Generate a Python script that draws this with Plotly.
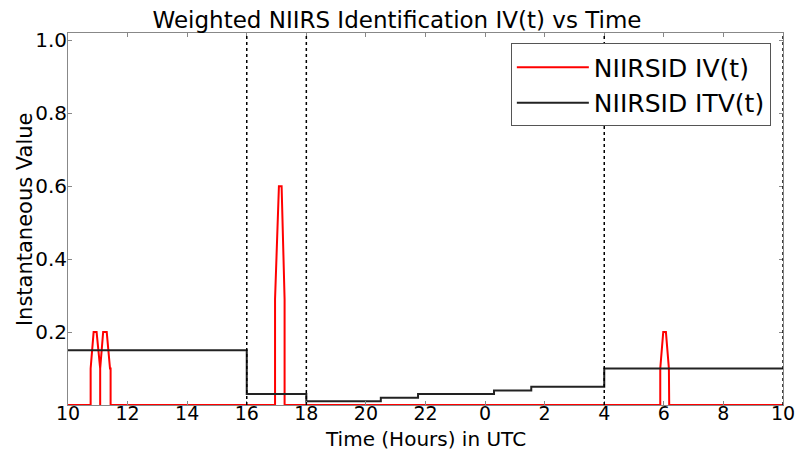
import plotly.graph_objects as go

# Time in hours (values past 24 are the next day)
tick_vals = [10, 12, 14, 16, 18, 20, 22, 24, 26, 28, 30, 32, 34]
tick_text = ["10", "12", "14", "16", "18", "20", "22", "0", "2", "4", "6", "8", "10"]

# NIIRSID IV(t) - red
iv_t = [10.0, 10.76, 10.76, 10.86, 10.96, 11.08, 11.08, 11.08, 11.18, 11.30, 11.41, 11.43, 11.43,
        16.95, 16.95, 17.08, 17.17, 17.27, 17.27,
        29.88, 29.88, 29.98, 30.07, 30.17, 30.18, 34.0]
iv_v = [0.0, 0.0, 0.1, 0.2, 0.2, 0.1, 0.0, 0.1, 0.2, 0.2, 0.1, 0.1, 0.0,
        0.0, 0.29, 0.6, 0.6, 0.29, 0.0,
        0.0, 0.1, 0.2, 0.2, 0.1, 0.0, 0.0]

# NIIRSID ITV(t) - black step
itv_t = [10, 16, 16, 18, 18, 20.5, 20.5, 21.75, 21.75, 24.3, 24.3, 25.55, 25.55, 28, 28, 34]
itv_v = [0.15, 0.15, 0.03, 0.03, 0.01, 0.01, 0.02, 0.02, 0.03, 0.03, 0.04, 0.04, 0.05, 0.05, 0.10, 0.10]

# dotted markers
vlines = [16, 18, 28, 34]

FONT = "DejaVu Sans"

fig = go.Figure()
fig.add_trace(go.Scatter(x=iv_t, y=iv_v, mode="lines", name="NIIRSID IV(t)",
                         line=dict(color="#ff0000", width=2)))
fig.add_trace(go.Scatter(x=itv_t, y=itv_v, mode="lines", name="NIIRSID ITV(t)",
                         line=dict(color="#222222", width=2)))

for xv in vlines:
    fig.add_shape(type="line", x0=xv, x1=xv, y0=0, y1=1, xref="x", yref="paper",
                  line=dict(color="black", width=1.5, dash="dot"))

fig.add_annotation(text="Time (Hours) in UTC", xref="paper", yref="paper",
                   x=0.5, y=-0.0915, xanchor="center", yanchor="middle", showarrow=False,
                   font=dict(size=20, family=FONT, color="black"))
fig.add_annotation(text="Instantaneous Value", xref="paper", yref="paper",
                   x=-0.060, y=0.50, xanchor="center", yanchor="middle", showarrow=False,
                   textangle=-90, font=dict(size=21, family=FONT, color="black"))

fig.update_layout(
    width=798, height=450,
    margin=dict(l=68, r=15, t=33, b=45, autoexpand=False),
    paper_bgcolor="white", plot_bgcolor="white",
    font=dict(family=FONT, color="black"),
    title=dict(text="Weighted NIIRS Identification IV(t) vs Time", x=397 / 798, xanchor="center",
               y=0.955, yanchor="middle", font=dict(size=23, family=FONT)),
    showlegend=True,
    legend=dict(x=0.983, y=0.972, xanchor="right", yanchor="top",
                bordercolor="#555555", borderwidth=1, bgcolor="white",
                font=dict(size=25, family=FONT), itemwidth=72,
                tracegroupgap=0),
    xaxis=dict(range=[10, 34], tickvals=tick_vals, ticktext=tick_text, automargin=False,
               showgrid=False, zeroline=False, showline=True, linecolor="#888888",
               linewidth=1, mirror="ticks", ticks="inside", ticklen=4, tickcolor="#888888",
               tickfont=dict(size=19, family=FONT), ticklabelstandoff=-9),
    yaxis=dict(range=[0, 1.02], tickvals=[0.2, 0.4, 0.6, 0.8, 1.0], automargin=False,
               ticktext=["0.2", "0.4", "0.6", "0.8", "1.0"],
               showgrid=False, zeroline=False, showline=True, linecolor="#888888",
               linewidth=1, mirror="ticks", ticks="inside", ticklen=4, tickcolor="#888888",
               tickfont=dict(size=20, family=FONT), ticklabelstandoff=-4),
)

fig.write_html("out.html", config={"displayModeBar": False},
               post_script="document.body.style.margin='0';")
